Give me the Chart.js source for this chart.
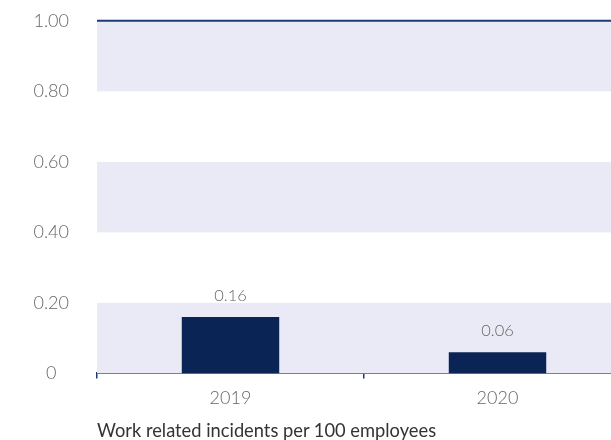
<!DOCTYPE html>
<html>
<head>
<meta charset="utf-8">
<script src="https://cdn.jsdelivr.net/npm/chart.js@4/dist/chart.umd.min.js"></script>
<style>
  html, body { margin: 0; padding: 0; background: #fff; overflow: hidden; }
  #wrap { position: relative; width: 611px; height: 440px; overflow: hidden; }
  #box { position: absolute; left: 0; top: -18px; width: 640px; height: 458px; }
  #caption {
    position: absolute; left: 97px; top: 419px;
    font-family: Lato, "Open Sans", sans-serif; font-size: 18.3px; color: #333;
    white-space: nowrap; line-height: 22px;
  }
</style>
</head>
<body>
<div id="wrap">
  <div id="box"><canvas id="c"></canvas></div>
  <div id="caption">Work related incidents per 100 employees</div>
</div>
<script>
const years = ['2019', '2020'];
const incidentRates = [0.16, 0.06];
const yTicks = [0, 0.2, 0.4, 0.6, 0.8, 1.0];

const NAVY = '#0a2456';
const LINE = '#1c3a72';
const BAND = '#eaeaf6';
const GREY = '#666666';
const FONT = 'Lato, "Open Sans", sans-serif';

// Alternating horizontal bands between y ticks, starting from zero
const bandsPlugin = {
  id: 'bands',
  beforeDatasetsDraw(chart) {
    const { ctx, chartArea, scales } = chart;
    const y = scales.y;
    ctx.save();
    ctx.fillStyle = BAND;
    for (let i = 0; i + 1 < yTicks.length; i += 2) {
      const top = y.getPixelForValue(yTicks[i + 1]);
      const bot = y.getPixelForValue(yTicks[i]);
      ctx.fillRect(chartArea.left, top, chartArea.right - chartArea.left, bot - top);
    }
    // top rule at the maximum
    const yt = y.getPixelForValue(yTicks[yTicks.length - 1]);
    ctx.strokeStyle = LINE;
    ctx.lineWidth = 2;
    ctx.beginPath();
    ctx.moveTo(chartArea.left, yt);
    ctx.lineTo(chartArea.right, yt);
    ctx.stroke();
    ctx.restore();
  }
};

// Value labels above each bar
const valueLabels = {
  id: 'valueLabels',
  afterDatasetsDraw(chart) {
    const { ctx } = chart;
    const meta = chart.getDatasetMeta(0);
    ctx.save();
    ctx.font = '300 16.5px ' + FONT;
    ctx.fillStyle = GREY;
    ctx.textAlign = 'center';
    ctx.textBaseline = 'bottom';
    meta.data.forEach((bar, i) => {
      ctx.fillText(incidentRates[i].toFixed(2), bar.x, bar.y - 13);
    });
    ctx.restore();
  }
};

new Chart(document.getElementById('c'), {
  type: 'bar',
  data: {
    labels: years,
    datasets: [{
      data: incidentRates,
      backgroundColor: NAVY,
      borderWidth: 0,
      barPercentage: 0.365,
      categoryPercentage: 1.0
    }]
  },
  options: {
    responsive: true,
    maintainAspectRatio: false,
    animation: false,
    layout: { padding: { top: 0, bottom: 22, right: 9 } },
    plugins: { legend: { display: false }, tooltip: { enabled: false } },
    scales: {
      x: {
        offset: true,
        border: { display: true, color: LINE, width: 2 },
        grid: { drawOnChartArea: false, color: LINE, tickLength: 5, lineWidth: 1.5, offset: true },
        ticks: { color: GREY, padding: 9, font: { family: FONT, size: 18, weight: '300' } }
      },
      y: {
        min: 0, max: 1,
        afterBuildTicks(scale) { scale.ticks = yTicks.map(v => ({ value: v })); },
        afterFit(scale) { scale.width = 97; },
        border: { display: false },
        grid: { display: false, drawTicks: false },
        ticks: {
          color: GREY,
          crossAlign: 'center',
          padding: 28,
          font: { family: FONT, size: 18, weight: '300' },
          callback: v => (v === 0 ? '0' : Number(v).toFixed(2))
        }
      }
    }
  },
  plugins: [bandsPlugin, valueLabels]
});
</script>
</body>
</html>
